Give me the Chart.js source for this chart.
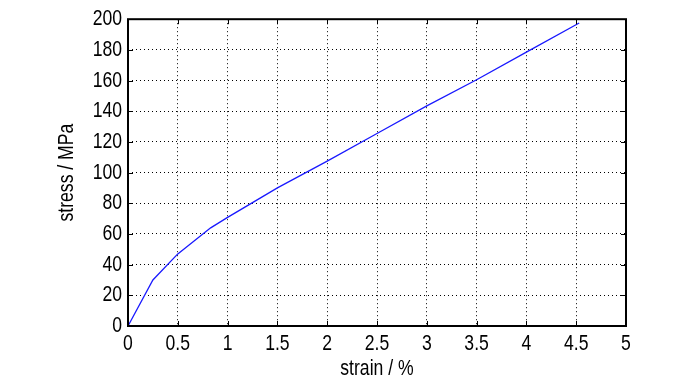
<!DOCTYPE html>
<html>
<head>
<meta charset="utf-8">
<script src="https://cdn.jsdelivr.net/npm/chart.js@4.4.1/dist/chart.umd.min.js"></script>
<style>
html,body{margin:0;padding:0;background:#fff;}
#wrap{width:700px;height:383px;position:relative;}
</style>
</head>
<body>
<div id="wrap"><canvas id="c" width="700" height="383"></canvas></div>
<script>
const strain = [0, 0.25, 0.5, 0.83, 1.0, 1.5, 2.0, 2.5, 3.0, 3.5, 4.0, 4.53];
const stress = [0, 30, 47, 64, 70.8, 90, 107.5, 125.5, 143.5, 160.5, 178.5, 197.5];
const xTicks = [0, 0.5, 1, 1.5, 2, 2.5, 3, 3.5, 4, 4.5, 5];
const yTicks = [0, 20, 40, 60, 80, 100, 120, 140, 160, 180, 200];
const xTitle = 'strain / %';
const yTitle = 'stress / MPa';

const FONT = "'Liberation Sans', Arial, sans-serif";
const SQUEEZE = 0.8;

const canvas = document.getElementById('c');
const c2d = canvas.getContext('2d');
const origFill = CanvasRenderingContext2D.prototype.fillText;
c2d.fillText = function (t, x, y) {
  this.save();
  this.translate(x, y);
  this.scale(SQUEEZE, 1);
  origFill.call(this, t, 0, 0);
  this.restore();
};

const frame = {
  id: 'frame',
  afterDatasetsDraw(chart) {
    const {ctx, chartArea: a, scales: {x, y}} = chart;
    ctx.save();
    ctx.strokeStyle = '#000';
    ctx.lineWidth = 1;
    const L = 5;
    ctx.beginPath();
    xTicks.forEach(v => {
      const px = Math.round(x.getPixelForValue(v)) + 0.5;
      ctx.moveTo(px, a.bottom); ctx.lineTo(px, a.bottom - L);
      ctx.moveTo(px, a.top); ctx.lineTo(px, a.top + L);
    });
    yTicks.forEach(v => {
      const py = Math.round(y.getPixelForValue(v)) + 0.5;
      ctx.moveTo(a.left, py); ctx.lineTo(a.left + L, py);
      ctx.moveTo(a.right, py); ctx.lineTo(a.right - L, py);
    });
    ctx.stroke();
    ctx.lineWidth = 2;
    ctx.strokeRect(a.left, a.top, a.right - a.left, a.bottom - a.top);
    ctx.restore();
  }
};

new Chart(canvas, {
  type: 'line',
  data: {
    datasets: [{
      data: strain.map((s, i) => ({x: s, y: stress[i]})),
      borderColor: '#1a1aff',
      borderWidth: 1.3,
      pointRadius: 0,
      tension: 0,
      fill: false
    }]
  },
  options: {
    responsive: false,
    animation: false,
    devicePixelRatio: 1,
    layout: {padding: {top: 16, right: 74, left: 0, bottom: 0}},
    plugins: {legend: {display: false}, tooltip: {enabled: false}},
    scales: {
      x: {
        type: 'linear', min: 0, max: 5,
        afterBuildTicks: s => { s.ticks = xTicks.map(v => ({value: v})); },
        afterFit: s => { s.height = 57; },
        grid: {color: '#000', lineWidth: 1, drawTicks: false},
        border: {display: false, dash: [1, 3]},
        ticks: {color: '#000', padding: 5, maxRotation: 0, autoSkip: false, callback: v => String(v), font: {family: FONT, size: 22}},
        title: {display: true, text: xTitle, color: '#000', padding: {top: 0, bottom: 1}, font: {family: FONT, size: 22}}
      },
      y: {
        type: 'linear', min: 0, max: 200,
        afterBuildTicks: s => { s.ticks = yTicks.map(v => ({value: v})); },
        afterFit: s => { s.width = 128; },
        grid: {color: '#000', lineWidth: 1, drawTicks: false},
        border: {display: false, dash: [1, 3]},
        ticks: {color: '#000', padding: 6, autoSkip: false, callback: v => String(v), font: {family: FONT, size: 22}},
        title: {display: true, text: yTitle, color: '#000', padding: {top: 54, bottom: 0}, font: {family: FONT, size: 22}}
      }
    }
  },
  plugins: [frame]
});
</script>
</body>
</html>
